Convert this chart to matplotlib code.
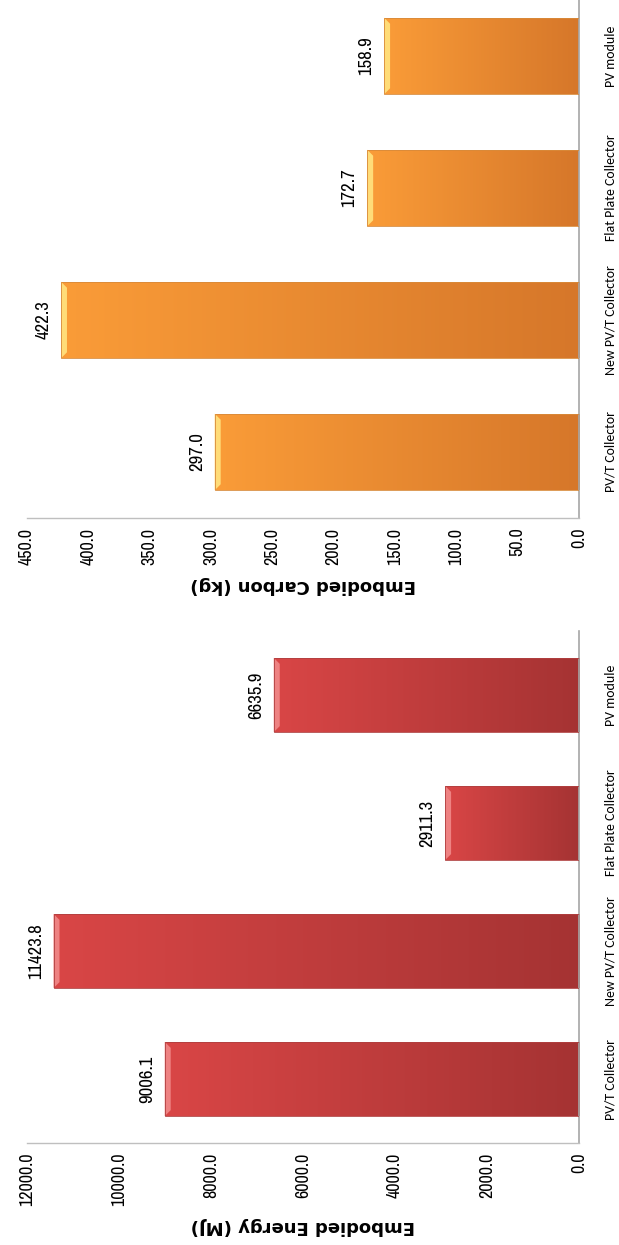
import numpy as np
import matplotlib
matplotlib.use("Agg")
import matplotlib.pyplot as plt
from matplotlib.patches import Polygon
from matplotlib.ticker import FormatStrFormatter

# ---- data ----
categories = ["PV/T Collector", "New PV/T Collector", "Flat Plate Collector", "PV module"]
energy_mj = [9006.1, 11423.8, 2911.3, 6635.9]
carbon_kg = [297.0, 422.3, 172.7, 158.9]

energy_ticks = [0, 2000, 4000, 6000, 8000, 10000, 12000]
carbon_ticks = [0, 50, 100, 150, 200, 250, 300, 350, 400, 450]

NUM_FONT = ["Archivo Narrow", "DejaVu Sans"]
CAT_FONT = ["Carlito", "DejaVu Sans"]
W, H = 619, 1245

fig = plt.figure(figsize=(W / 100, H / 100), dpi=100)
fig.patch.set_facecolor("white")


def hex2rgb(h):
    h = h.lstrip("#")
    return np.array([int(h[i:i + 2], 16) for i in (0, 2, 4)]) / 255.0


def draw_panel(rect, values, ticks, title, tip_col, root_col, bevel_col, edge_col):
    ax = fig.add_axes(rect)
    vmax = ticks[-1]
    pos = np.arange(len(categories))
    bh = 0.58
    bars = ax.barh(pos, values, height=bh, facecolor="none",
                   edgecolor=edge_col, linewidth=0.6, zorder=3)

    # horizontal shading from the bar tip (light) to the base (dark)
    tip = hex2rgb(tip_col)
    root = hex2rgb(root_col)
    t = np.linspace(0, 1, 256)[None, :, None]
    grad = (1 - t) * tip + t * root
    for p, v, patch in zip(pos, values, bars.patches):
        im = ax.imshow(grad, extent=(v, 0, p - bh / 2, p + bh / 2),
                       aspect="auto", interpolation="bilinear", zorder=2)
        im.set_clip_path(patch)

    ax.set_xlim(vmax, 0)
    ax.set_ylim(-0.5, len(categories) - 0.5)

    # bevelled highlight at the tip of each bar
    ax_w = rect[2] * W
    ax_h = rect[3] * H
    dx = 6 * vmax / ax_w
    dy = 6 * len(categories) / ax_h
    for p, v in zip(pos, values):
        y0, y1 = p - bh / 2, p + bh / 2
        poly = Polygon([(v, y0), (v - dx, y0 + dy), (v - dx, y1 - dy), (v, y1)],
                       closed=True, facecolor=bevel_col, edgecolor="none", zorder=2.5)
        ax.add_patch(poly)
        ax.annotate(f"{v:.1f}", xy=(v, p), xytext=(-7, 0), textcoords="offset points",
                    rotation=90, ha="right", va="center", fontsize=13.5,
                    family=NUM_FONT, color="black", zorder=4)

    for s in ("top", "left"):
        ax.spines[s].set_visible(False)
    ax.spines["bottom"].set_color("#bfbfbf")
    ax.spines["bottom"].set_linewidth(1.0)
    ax.spines["right"].set_color("#a6a6a6")
    ax.spines["right"].set_linewidth(1.2)

    ax.set_xticks(ticks)
    ax.xaxis.set_major_formatter(FormatStrFormatter("%.1f"))
    ax.tick_params(axis="x", length=0, labelrotation=90, pad=7, labelsize=13)
    for lab in ax.get_xticklabels():
        lab.set_family(NUM_FONT)

    ax.set_yticks(pos)
    ax.set_yticklabels(categories)
    ax.tick_params(axis="y", left=False, right=False, labelleft=False,
                   labelright=True, labelrotation=90, pad=15, labelsize=10)
    for lab in ax.get_yticklabels():
        lab.set_family(CAT_FONT)
        lab.set_ha("left")
        lab.set_va("center")

    ax.set_xlabel(title, rotation=180, fontsize=13, fontweight="bold",
                  family="DejaVu Sans", labelpad=8)
    return ax


# lower panel: embodied energy
draw_panel([27 / W, (H - 1143) / H, 552 / W, 512 / H], energy_mj, energy_ticks,
           "Embodied Energy (MJ)", "#d94646", "#a53333", "#ee8282", "#b04040")

# upper panel: embodied carbon
draw_panel([27 / W, (H - 518) / H, 552 / W, 528 / H], carbon_kg, carbon_ticks,
           "Embodied Carbon (kg)", "#fa9c38", "#d6772a", "#ffdc78", "#d88a3a")

fig.savefig("out.png", dpi=100, facecolor="white")
